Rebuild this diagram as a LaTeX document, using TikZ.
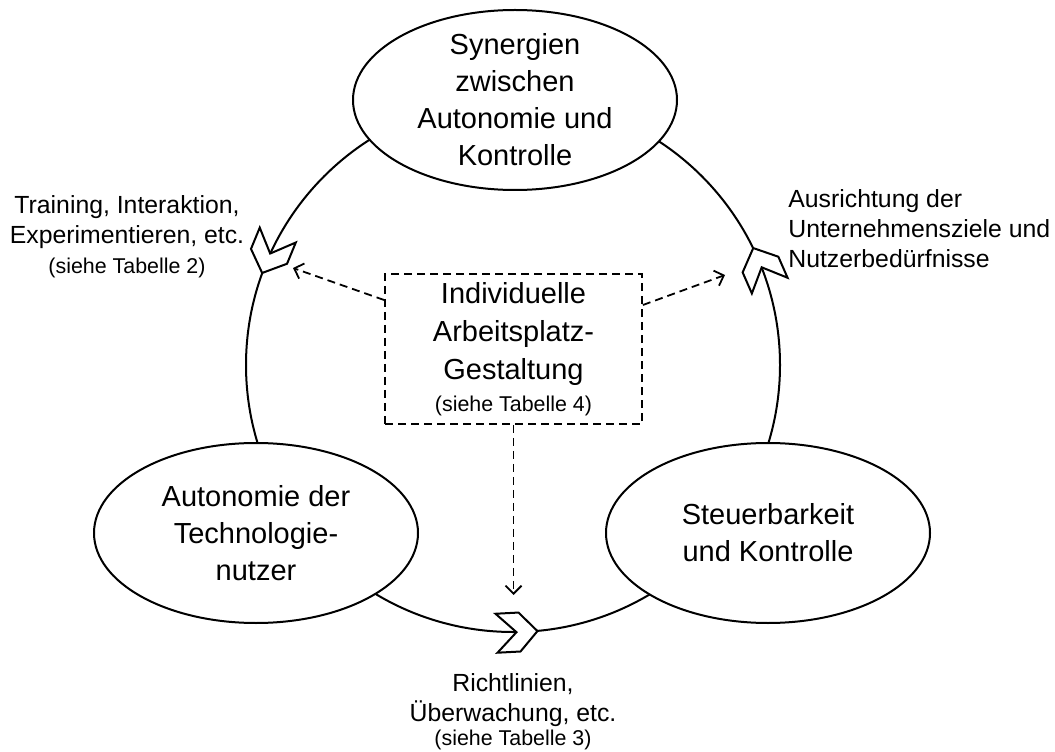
\documentclass[tikz,border=0pt]{standalone}
\usepackage{fontspec}
\setmainfont{Liberation Sans}
\usetikzlibrary{shapes.geometric,arrows.meta}
\begin{document}
\begin{tikzpicture}[x=0.5pt,y=0.5pt,
  bubble/.style={ellipse,draw,line width=1pt,fill=white,minimum width=162pt,minimum height=90pt,inner sep=0pt},
  bigtext/.style={align=center,inner sep=0pt,font=\fontsize{14.5}{18.5}\selectfont},
  note/.style={inner sep=0pt,font=\fontsize{12.4}{15}\selectfont},
  flow/.style={line width=0.9pt,dash pattern=on 4pt off 2.5pt,-{Straight Barb[length=4pt,width=8pt]}}]
  \useasboundingbox (0,0) rectangle (1055,751);

  % the cycle
  \draw[line width=1pt] (513,386) circle (267);
  \foreach \a in {157.6,273,23.7}
    \filldraw[fill=white,line width=1pt,shift={(513,386)},rotate=\a]
      (267,10.5) -- (286.5,-7.5) -- (286.5,-30.5) -- (267,-10.5) -- (247.5,-30.5) -- (247.5,-7.5) -- cycle;

  \node[bubble,label={[bigtext]center:Synergien\\zwischen\\Autonomie und\\Kontrolle}] (syn) at (515,651) {};
  \node[bubble,label={[bigtext]center:Autonomie der\\Technologie-\\nutzer}] (auto) at (256,218) {};
  \node[bubble,label={[bigtext]center:Steuerbarkeit\\und Kontrolle}] (steuer) at (768,218) {};

  % centre box
  \node[draw,line width=0.9pt,dash pattern=on 4pt off 2.5pt,minimum width=128.5pt,minimum height=75pt,
        inner sep=0pt,align=center,font=\fontsize{14.5}{19}\selectfont] (box) at (513.5,402)
    {Individuelle\\Arbeitsplatz-\\Gestaltung\\[-3pt]{\fontsize{10.7}{13}\selectfont (siehe Tabelle 4)}};

  \coordinate (trainpt) at (293,483);
  \coordinate (zielpt) at (725,476);
  \coordinate (regelpt) at (513.5,156);
  \draw[flow] ([yshift=24.5pt]box.west) -- (trainpt);
  \draw[flow] ([yshift=22pt]box.east) -- (zielpt);
  \draw[flow] (box.south) -- (regelpt);

  % labels
  \node[note,align=center] (training) at (127,514)
    {Training, Interaktion,\\Experimentieren, etc.\\{\fontsize{10.7}{13}\selectfont (siehe Tabelle 2)}};
  \node[note,align=left,anchor=west] (ziele) at (788,522)
    {Ausrichtung der\\Unternehmensziele und\\Nutzerbedürfnisse};
  \node[note,align=center] (richtlinien) at (513,39)
    {Richtlinien,\\Überwachung, etc.\\[-3pt]{\fontsize{10.7}{13}\selectfont (siehe Tabelle 3)}};
\end{tikzpicture}
\end{document}
